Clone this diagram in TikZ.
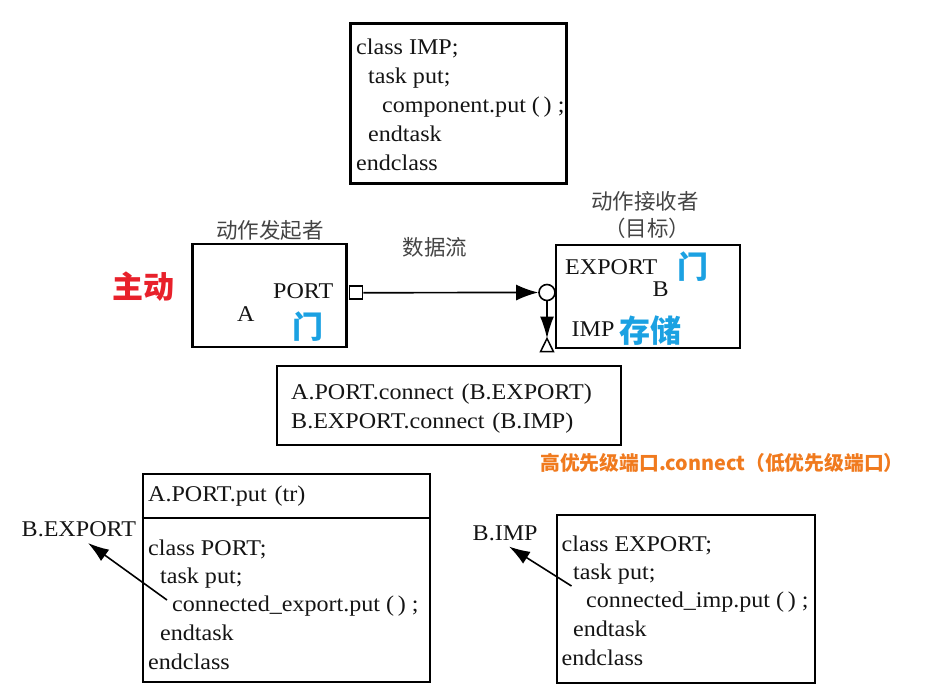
\documentclass[tikz,border=0pt]{standalone}
\usepackage{fontspec}
\setmainfont[FakeStretch=1.07]{Liberation Serif}
\newfontfamily\cjk{Noto Sans CJK SC}
\usetikzlibrary{arrows.meta}
\definecolor{hlred}{HTML}{E8212B}
\definecolor{hlblue}{HTML}{1BA1E2}
\definecolor{hlorange}{HTML}{F07A1E}
\definecolor{cjkgray}{HTML}{444444}
\tikzset{
  box/.style={draw=black, line width=2.2pt, rectangle, inner sep=0pt},
  code/.style={font=\fontsize{22.5}{27}\selectfont, inner sep=0pt, anchor=base west, text=black!92},
  zh/.style={font=\cjk\fontsize{21.5}{26}\selectfont, inner sep=0pt, text=cjkgray},
  mark zh/.style={font=\cjk\bfseries\fontsize{31}{36}\selectfont, inner sep=0pt},
  flow/.style={line width=1.7pt, -{Latex[length=22pt,width=16pt]}},
  ptr/.style={line width=1.6pt, -{Latex[length=21pt,width=14pt]}},
}
\begin{document}
\begin{tikzpicture}[x=1pt,y=-1pt]
\useasboundingbox (0,0) rectangle (945,697);

% top box: class IMP
\node[box, minimum width=216, minimum height=160] (impbox) at (458.5,103.5) {};
\node[code] (i1) at (356,54) {class IMP;};
\node[code] (i2) at (368,83) {task put;};
\node[code] (i3) at (382,112) {component.put (\,) ;};
\node[code] (i4) at (368,141) {endtask};
\node[code] (i5) at (356,170) {endclass};

% A box
\node[zh] (initiator) at (270,230) {动作发起者};
\node[box, minimum width=154, minimum height=103] (abox) at (269.5,295.8) {};
\node[code] (port) at (273,298) {PORT};
\node[code] (alabel) at (237,321) {A};
\node[mark zh, text=hlblue] (men1) at (308,327) {门};
\node[mark zh, text=hlred] (zhudong) at (143,287) {主动};

% B box
\node[zh] (receiver) at (645,201) {动作接收者};
\node[zh] (target) at (647,228) {（目标）};
\node[box, minimum width=184, minimum height=103] (bbox) at (647.8,296.3) {};
\node[code] (export) at (565,274.5) {EXPORT};
\node[code] (blabel) at (652.5,296) {B};
\node[code] (imp) at (571.5,336) {IMP};
\node[mark zh, text=hlblue] (men2) at (693,267) {门};
\node[mark zh, text=hlblue] (cunchu) at (650,331) {存储};

% data flow
\node[zh] (dataflow) at (435,247) {数据流};
\node[draw, line width=1.6pt, rectangle, minimum size=13pt, inner sep=0pt, fill=white] (sq) at (356,292.7) {};
\node[draw, line width=1.6pt, circle, minimum size=16pt, inner sep=0pt, fill=white] (circ) at (547,292.5) {};
\draw[flow] (sq.east) -- (circ.west);
\coordinate (apex) at (547,338.5);
\draw[line width=1.7pt, -{Latex[length=22pt,width=14pt]}] (circ.south) -- (apex);
\draw[line width=1.5pt, fill=white] (apex) -- ++(-6.5,13.2) -- ++(13,0) -- cycle;

% connect box
\node[box, minimum width=344, minimum height=79] (conbox) at (449,405.5) {};
\node[code] (c1) at (291,399) {A.PORT.connect\hspace{0.35em}(B.EXPORT)};
\node[code] (c2) at (291,428) {B.EXPORT.connect\hspace{0.35em}(B.IMP)};
\node[font=\cjk\bfseries\fontsize{19.8}{23}\selectfont, text=hlorange, inner sep=0pt] (note) at (722,463) {高优先级端口.connect（低优先级端口）};

% bottom-left box
\node[box, minimum width=287, minimum height=208] (portbox) at (286.3,578) {};
\draw[line width=1.7pt] (portbox.west |- 0,518.3) coordinate (dl) -- (portbox.east |- 0,518.3) coordinate (dr);
\node[code] (p0) at (148,501.5) {A.PORT.put\hspace{0.35em}(tr)};
\node[code] (p1) at (148,555) {class PORT;};
\node[code] (p2) at (160,583.5) {task put;};
\node[code] (p3) at (172,611) {connected\_export.put (\,) ;};
\node[code] (p4) at (160,640) {endtask};
\node[code] (p5) at (148,669.5) {endclass};
\node[code] (bexport) at (21.5,536.5) {B.EXPORT};
\coordinate (pstart) at (167,600);
\coordinate (ptip) at (88,543);
\draw[ptr] (pstart) -- (ptip);

% bottom-right box
\node[box, minimum width=258, minimum height=168] (expbox) at (685.8,598.8) {};
\node[code] (e1) at (561.5,551.5) {class EXPORT;};
\node[code] (e2) at (573,579) {task put;};
\node[code] (e3) at (586,607) {connected\_imp.put (\,) ;};
\node[code] (e4) at (573,636.5) {endtask};
\node[code] (e5) at (561.5,665) {endclass};
\node[code] (bimp) at (472.5,540) {B.IMP};
\coordinate (estart) at (571.5,586);
\coordinate (etip) at (509,546.5);
\draw[ptr] (estart) -- (etip);
\end{tikzpicture}
\end{document}
